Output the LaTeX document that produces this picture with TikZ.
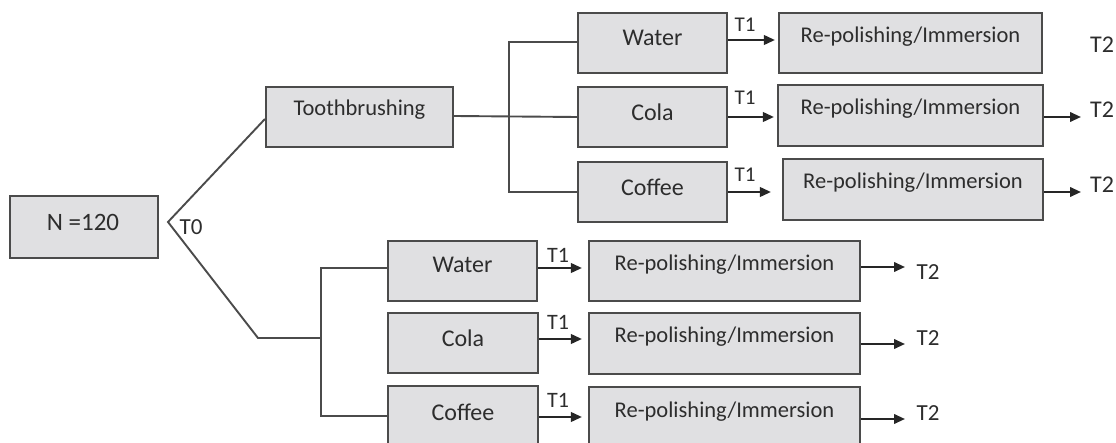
\documentclass[tikz,border=0pt]{standalone}
\usepackage{fontspec}
\setmainfont{Carlito}
\usetikzlibrary{arrows.meta}
\definecolor{boxfill}{RGB}{224,224,226}
\definecolor{linec}{RGB}{75,75,75}
\definecolor{txtc}{RGB}{45,45,45}
\tikzset{
  box/.style={draw=linec, fill=boxfill, line width=2.1pt, inner sep=0pt},
  lbl/.style={text=txtc, inner sep=0pt, font=\fontsize{24}{26}\selectfont},
  rpl/.style={text=txtc, inner sep=0pt, font=\fontsize{22.5}{24}\selectfont},
  tl/.style={text=txtc, inner sep=0pt, font=\fontsize{22}{24}\selectfont},
  conn/.style={draw=linec, line width=1.9pt},
  arr/.style={draw=black!85, line width=2.2pt, -{Triangle[length=11pt,width=9.5pt]}}
}
\begin{document}
\begin{tikzpicture}[x=1pt,y=-1pt]
\useasboundingbox (0,0) rectangle (1116,443);
\clip (0,0) rectangle (1116,443);
% boxes
\node[box, minimum width=148, minimum height=62] (n) at (84,227) {};
\node[tl, font=\fontsize{25}{27}\selectfont] (nt) at (83,222) {N =120};
\node[box, minimum width=187, minimum height=60] (tb) at (359.5,117) {};
\node[lbl, font=\fontsize{22.5}{24}\selectfont] (tbt) at (359.5,110) {Toothbrushing};
% upper branch
\node[box, minimum width=149, minimum height=60] (wa1) at (652.5,43) {};
\node[lbl] at (652.5,38) {Water};
\node[box, minimum width=149, minimum height=60] (co1) at (652.5,117) {};
\node[lbl] at (652.5,112) {Cola};
\node[box, minimum width=149, minimum height=60] (cf1) at (652.5,192) {};
\node[lbl] at (652.5,187) {Coffee};
\node[box, minimum width=263, minimum height=60] (rpa1) at (910.5,43) {};
\node[rpl] at (910.5,37) {Re-polishing/Immersion};
\node[box, minimum width=265, minimum height=61] (rpb1) at (910.5,115.5) {};
\node[rpl] at (910.5,109) {Re-polishing/Immersion};
\node[box, minimum width=260, minimum height=61] (rpc1) at (913,189.5) {};
\node[rpl] at (913,183) {Re-polishing/Immersion};
% lower branch
\node[box, minimum width=149, minimum height=60] (wa2) at (462.5,271) {};
\node[lbl] at (462.5,265) {Water};
\node[box, minimum width=150, minimum height=60] (co2) at (463,343) {};
\node[lbl] at (463,338) {Cola};
\node[box, minimum width=150, minimum height=60] (cf2) at (463,416) {};
\node[lbl] at (463,412) {Coffee};
\node[box, minimum width=271, minimum height=60] (rpa2) at (724.5,271) {};
\node[rpl] at (724.5,265) {Re-polishing/Immersion};
\node[box, minimum width=271, minimum height=61] (rpb2) at (724.5,343.5) {};
\node[rpl] at (724.5,337) {Re-polishing/Immersion};
\node[box, minimum width=271, minimum height=60] (rpc2) at (724.5,417) {};
\node[rpl] at (724.5,412) {Re-polishing/Immersion};
% T0 connectors
\coordinate (v) at (168,222);
\coordinate (lb) at (258,338);
\coordinate (vb2) at (321,338);
\coordinate (vb1) at (509,117);
\node[tl, font=\fontsize{23}{25}\selectfont] (t0) at (191,227) {T0};
\draw[conn] ([yshift=-2pt]tb.west) -- (v) -- (lb) -- (vb2);
\draw[conn] (wa2.west |- 0,268) -- (vb2 |- 0,268) -- (vb2 |- cf2.west) -- (cf2.west);
\draw[conn] ([yshift=1pt]tb.east) -- (co1.west);
\draw[conn] ([yshift=1pt]wa1.west) -- ([yshift=1pt]wa1.west -| vb1) -- (cf1.west -| vb1) -- (cf1.west);
% T1 arrows
\draw[arr, shorten >=3pt] ([yshift=3pt]wa1.east) -- ([yshift=3pt]wa1.east -| rpa1.west);
\draw[arr, shorten >=3pt] (co1.east) -- (co1.east -| rpb1.west);
\draw[arr, shorten >=11pt] (cf1.east) -- (cf1.east -| rpc1.west);
\draw[arr, shorten >=6pt] ([yshift=3pt]wa2.east) -- ([yshift=3pt]wa2.east -| rpa2.west);
\draw[arr, shorten >=6pt] ([yshift=4pt]co2.east) -- ([yshift=4pt]co2.east -| rpb2.west);
\draw[arr, shorten >=6pt] ([yshift=-1pt]cf2.east) -- ([yshift=-1pt]cf2.east -| rpc2.west);
\node[tl, font=\fontsize{21}{23}\selectfont] (t1a) at (745,25) {T1};
\node[tl, font=\fontsize{21}{23}\selectfont] (t1b) at (745,98) {T1};
\node[tl, font=\fontsize{21}{23}\selectfont] (t1c) at (745,175) {T1};
\node[tl] (t1d) at (558,255) {T1};
\node[tl] (t1e) at (558,322) {T1};
\node[tl] (t1f) at (558,400) {T1};
% T2 arrows
\coordinate (e1) at (1081,117);
\coordinate (e2) at (1081,192);
\coordinate (e3) at (905,267);
\coordinate (e4) at (905,344);
\coordinate (e5) at (905,419);
\draw[arr] (rpb1.east |- e1) -- (e1);
\draw[arr] (rpc1.east |- e2) -- (e2);
\draw[arr] (rpa2.east |- e3) -- (e3);
\draw[arr] (rpb2.east |- e4) -- (e4);
\draw[arr] (rpc2.east |- e5) -- (e5);
\node[tl, font=\fontsize{24}{26}\selectfont] (t2a) at (1102,45) {T2};
\node[tl, font=\fontsize{24}{26}\selectfont] (t2b) at (1102,110) {T2};
\node[tl, font=\fontsize{24}{26}\selectfont] (t2c) at (1102,185) {T2};
\node[tl, font=\fontsize{23}{25}\selectfont] (t2d) at (928,272) {T2};
\node[tl, font=\fontsize{23}{25}\selectfont] (t2e) at (928,338) {T2};
\node[tl, font=\fontsize{23}{25}\selectfont] (t2f) at (928,413) {T2};
\end{tikzpicture}
\end{document}
